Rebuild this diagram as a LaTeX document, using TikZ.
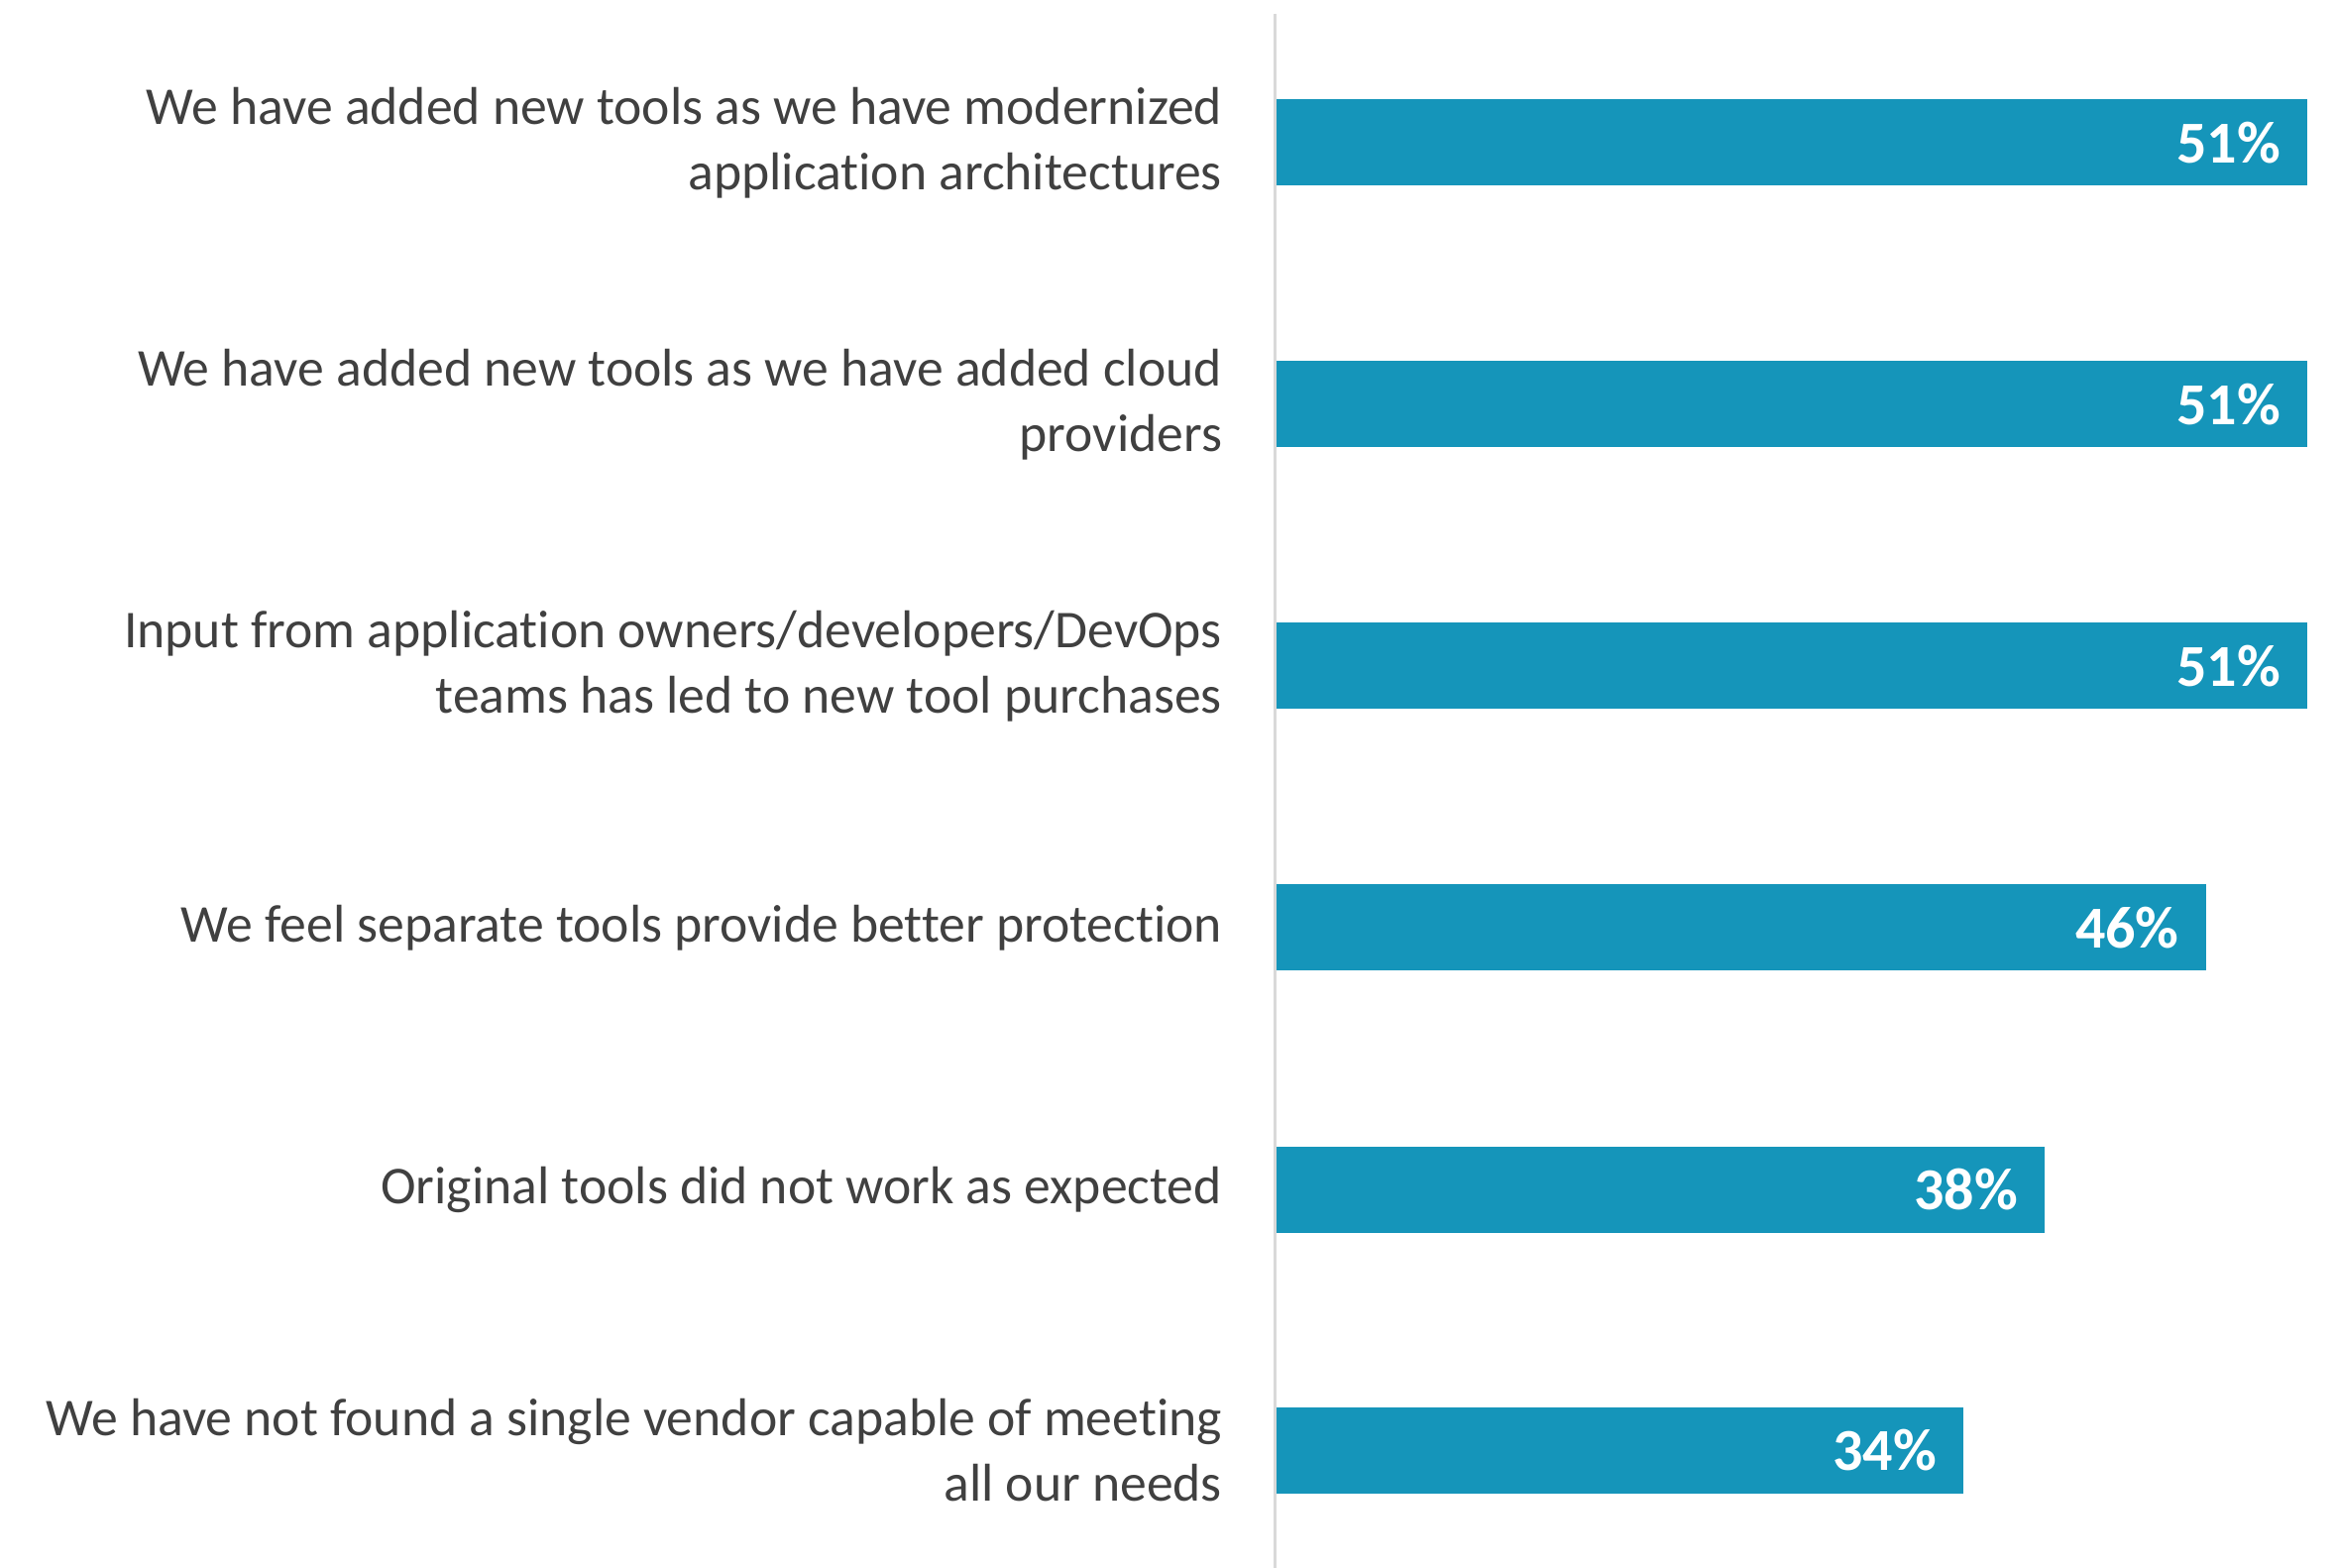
\documentclass[tikz,border=0pt]{standalone}
\usepackage{fontspec}
\setmainfont{Carlito}[Ligatures=CommonOff]
\usepackage{tikz}
\usetikzlibrary{positioning}
\definecolor{barblue}{HTML}{1595BA}
\definecolor{labelgray}{HTML}{404040}
\definecolor{axisgray}{HTML}{D9D9D9}

\begin{document}
\begin{tikzpicture}[
    x=0.3pt, y=-0.3pt,
    every node/.style={inner sep=0pt, outer sep=0pt},
    bar/.style={
      rectangle, fill=barblue, anchor=west,
      minimum height=26.1pt
    },
    label/.style={
      anchor=east, align=right, text=labelgray,
      font=\fontsize{16.1pt}{19.9pt}\selectfont
    },
    pct/.style={
      anchor=east, text=white,
      font=\fontsize{18pt}{20pt}\selectfont\bfseries
    },
    axisline/.style={draw=axisgray, line width=0.9pt}
  ]
  \useasboundingbox (0,0) rectangle (2357,1582);

  % Axis
  \coordinate (axtop) at (1286,14);
  \coordinate (axbot) at (1286,1582);
  \draw[axisline] (axtop) -- (axbot);

  % Bars
  \node[bar, minimum width=312pt] (bar1) at (1288,144) {};
  \node[bar, minimum width=312pt] (bar2) at (1288,408) {};
  \node[bar, minimum width=312pt] (bar3) at (1288,672) {};
  \node[bar, minimum width=281.3pt] (bar4) at (1288,936) {};
  \node[bar, minimum width=232.5pt] (bar5) at (1288,1200) {};
  \node[bar, minimum width=207.9pt] (bar6) at (1288,1463) {};

  % Values
  \node[pct, left=8.1pt of bar1.east] (val1) {51\%};
  \node[pct, left=8.1pt of bar2.east] (val2) {51\%};
  \node[pct, left=8.1pt of bar3.east] (val3) {51\%};
  \node[pct, left=8.1pt of bar4.east] (val4) {46\%};
  \node[pct, left=8.1pt of bar5.east] (val5) {38\%};
  \node[pct, left=8.1pt of bar6.east] (val6) {34\%};

  % Labels
  \node[label] (lab1) at (1233,144) {We have added new tools as we have modernized\\application architectures};
  \node[label] (lab2) at (1233,408) {We have added new tools as we have added cloud\\providers};
  \node[label] (lab3) at (1233,672) {Input from application owners/developers/DevOps\\teams has led to new tool purchases};
  \node[label] (lab4) at (1233,936) {We feel separate tools provide better protection};
  \node[label] (lab5) at (1233,1200) {Original tools did not work as expected};
  \node[label] (lab6) at (1233,1463) {We have not found a single vendor capable of meeting\\all our needs};

\end{tikzpicture}
\end{document}
